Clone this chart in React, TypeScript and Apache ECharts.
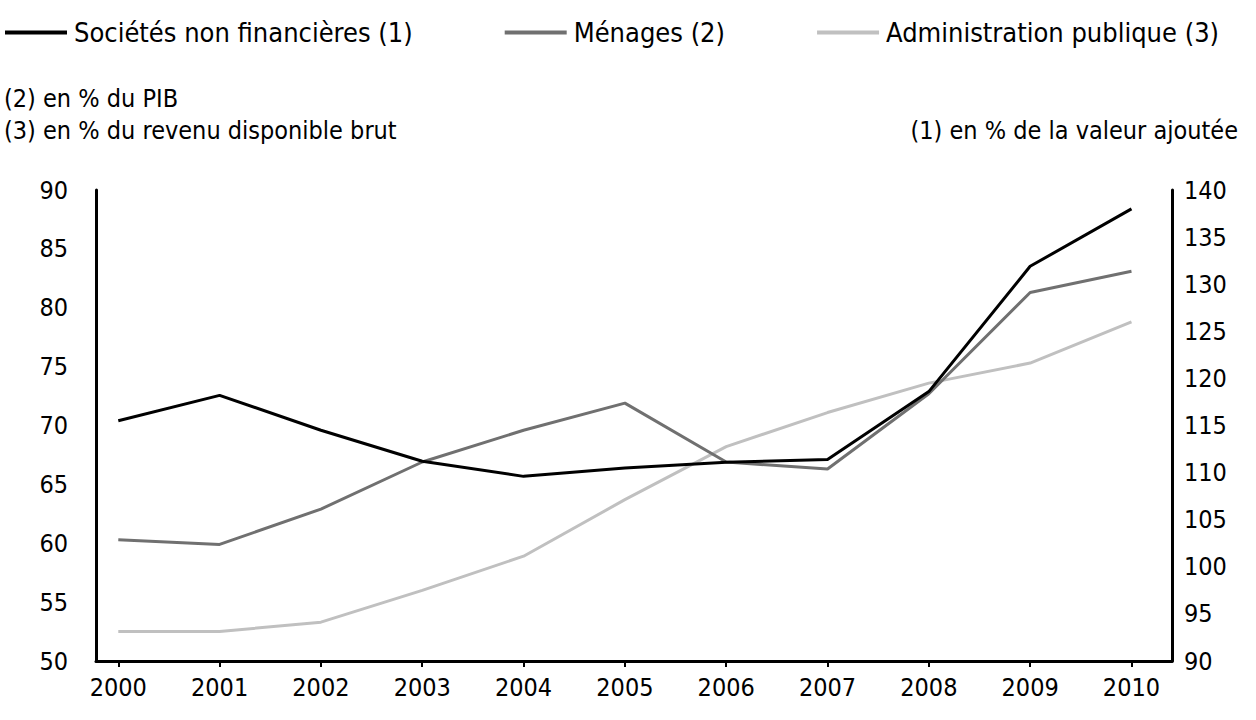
import { useRef, useEffect } from "react";
import * as echarts from "echarts";

const years = [2000, 2001, 2002, 2003, 2004, 2005, 2006, 2007, 2008, 2009, 2010];
const societes = [115.5, 118.2, 114.5, 111.2, 109.6, 110.5, 111.1, 111.4, 118.6, 131.9, 138.0];
const menages = [60.3, 59.9, 62.9, 66.9, 69.6, 71.9, 66.9, 66.3, 72.7, 81.3, 83.1];
const administration = [52.5, 52.5, 53.3, 56.0, 58.9, 63.7, 68.2, 71.1, 73.6, 75.3, 78.8];

const FONT = "'Liberation Sans Narrow', 'DejaVu Sans Condensed', 'Roboto', sans-serif";

export default function App() {
  const chartRef = useRef<HTMLDivElement>(null);

  useEffect(() => {
    document.body.style.margin = "0";
    if (!chartRef.current) return;
    const chart = echarts.init(chartRef.current, undefined, { renderer: "svg" });

    const pair = (vals: number[]) => years.map((y, i) => [y, vals[i]]);
    const axisLine = { show: true, lineStyle: { color: "#000", width: 3 } };
    const label = { color: "#000", fontSize: 25, fontFamily: FONT };

    chart.setOption({
      animation: false,
      textStyle: { fontFamily: FONT },
      legend: {
        left: 0,
        top: 14,
        itemWidth: 62,
        itemHeight: 4,
        itemGap: 92,
        icon: "rect",
        textStyle: { color: "#000", fontSize: 27, fontFamily: FONT, padding: [0, 0, 0, 2] },
        data: ["Sociétés non financières (1)", "Ménages (2)", "Administration publique (3)"],
      },
      graphic: [
        { type: "text", left: 4, top: 86, style: { text: "(2) en % du PIB", fontSize: 25, fontFamily: FONT, fill: "#000" } },
        { type: "text", left: 4, top: 118, style: { text: "(3) en % du revenu disponible brut", fontSize: 25, fontFamily: FONT, fill: "#000" } },
        { type: "text", right: 18, top: 118, style: { text: "(1) en % de la valeur ajoutée", fontSize: 25, fontFamily: FONT, fill: "#000" } },
      ],
      grid: { left: 96, right: 84, top: 190, bottom: 59 },
      xAxis: {
        type: "value",
        min: 1999.78,
        max: 2010.4,
        axisLine,
        axisTick: { show: true, customValues: years, length: 6, lineStyle: { color: "#000", width: 2 } },
        axisLabel: { ...label, customValues: years, margin: 14, formatter: (v: number) => String(Math.round(v)) },
        splitLine: { show: false },
      },
      yAxis: [
        {
          type: "value",
          min: 50,
          max: 90,
          interval: 5,
          axisLine,
          axisTick: { show: false },
          axisLabel: { ...label, margin: 28 },
          splitLine: { show: false },
        },
        {
          type: "value",
          min: 90,
          max: 140,
          interval: 5,
          position: "right",
          axisLine,
          axisTick: { show: false },
          axisLabel: { ...label, margin: 12 },
          splitLine: { show: false },
        },
      ],
      series: [
        {
          name: "Sociétés non financières (1)",
          type: "line",
          yAxisIndex: 1,
          data: pair(societes),
          symbol: "none",
          lineStyle: { color: "#000", width: 3 },
          itemStyle: { color: "#000" },
          z: 4,
        },
        {
          name: "Ménages (2)",
          type: "line",
          yAxisIndex: 0,
          data: pair(menages),
          symbol: "none",
          lineStyle: { color: "#707070", width: 3 },
          itemStyle: { color: "#707070" },
          z: 3,
        },
        {
          name: "Administration publique (3)",
          type: "line",
          yAxisIndex: 0,
          data: pair(administration),
          symbol: "none",
          lineStyle: { color: "#c0c0c0", width: 3 },
          itemStyle: { color: "#c0c0c0" },
          z: 2,
        },
      ],
    });

    return () => {
      chart.dispose();
    };
  }, []);

  return <div ref={chartRef} style={{ width: "1256px", height: "720px" }} />;
}
